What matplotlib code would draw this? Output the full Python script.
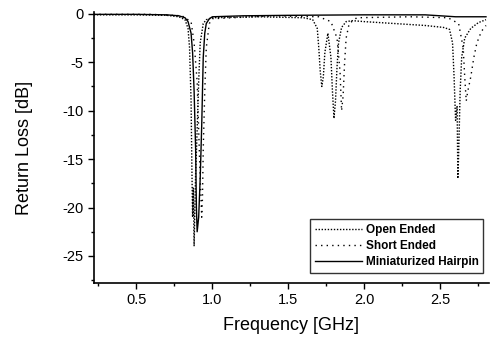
import numpy as np
import matplotlib.pyplot as plt

plt.rcParams['font.family'] = ['Liberation Sans', 'DejaVu Sans']
plt.rcParams['axes.unicode_minus'] = False

# --- data (frequency in GHz, return loss in dB)
open_freq = [0.22, 0.50, 0.70, 0.78, 0.82, 0.84, 0.85, 0.86, 0.865, 0.87, 0.875, 0.88,
             0.885, 0.89, 0.90, 0.91, 0.92, 0.94, 0.96, 1.00, 1.30, 1.60, 1.66, 1.69,
             1.70, 1.71, 1.72, 1.73, 1.74, 1.76, 1.78, 1.79, 1.80, 1.81, 1.82, 1.83,
             1.85, 1.88, 1.92, 2.00, 2.20, 2.40, 2.52, 2.56, 2.58, 2.59, 2.60, 2.61,
             2.615, 2.62, 2.63, 2.64, 2.66, 2.70, 2.75, 2.80]
open_db = [-0.1, -0.1, -0.15, -0.3, -0.6, -1.5, -3.5, -9.0, -15.5, -21.0, -18.0, -24.0,
           -20.0, -16.5, -12.0, -7.0, -3.0, -1.0, -0.6, -0.4, -0.3, -0.4, -0.6, -1.5,
           -3.5, -6.0, -7.5, -6.5, -4.0, -2.0, -4.5, -8.0, -10.8, -9.0, -5.5, -3.0,
           -1.4, -0.8, -0.7, -0.8, -1.0, -1.2, -1.4, -1.6, -3.0, -6.5, -11.0, -9.5,
           -17.0, -14.5, -8.0, -4.5, -2.5, -1.5, -0.9, -0.6]

short_freq = [0.22, 0.60, 0.80, 0.86, 0.88, 0.90, 0.91, 0.92, 0.93, 0.935, 0.94,
              0.95, 0.96, 0.98, 1.00, 1.40, 1.70, 1.78, 1.82, 1.84, 1.85, 1.86, 1.87,
              1.88, 1.90, 1.95, 2.30, 2.55, 2.62, 2.65, 2.66, 2.67, 2.68, 2.70, 2.72,
              2.74, 2.77, 2.80]
short_db = [-0.05, -0.05, -0.2, -0.8, -3.0, -7.0, -12.0, -17.0, -21.0, -19.0, -14.0,
            -8.0, -3.5, -1.0, -0.5, -0.2, -0.3, -0.8, -2.5, -6.0, -10.0, -8.5, -5.0,
            -2.5, -1.0, -0.4, -0.3, -0.4, -1.0, -3.5, -6.5, -9.0, -8.0, -6.5, -4.5,
            -3.0, -1.8, -1.2]

hairpin_freq = [0.22, 0.50, 0.70, 0.78, 0.82, 0.84, 0.86, 0.87, 0.88, 0.89, 0.895,
                0.90, 0.91, 0.92, 0.93, 0.94, 0.95, 0.96, 0.98, 1.00, 1.20, 1.50,
                2.00, 2.40, 2.50, 2.60, 2.80]
hairpin_db = [-0.05, -0.05, -0.1, -0.2, -0.4, -0.8, -2.0, -4.0, -8.0, -14.0, -20.0,
              -22.5, -21.0, -17.0, -11.5, -4.5, -2.0, -1.0, -0.5, -0.3, -0.2, -0.15,
              -0.1, -0.1, -0.2, -0.3, -0.3]

xticks = [0.5, 1.0, 1.5, 2.0, 2.5]
yticks = [0, -5, -10, -15, -20, -25]

fig = plt.figure(figsize=(4.91, 3.41), dpi=100)
ax = fig.add_axes([0.191, 0.170, 0.805, 0.795])

ax.plot(open_freq, open_db, color='black', lw=1.0, ls=(0, (1, 1.2)), label='Open Ended')
ax.plot(short_freq, short_db, color='black', lw=1.0, ls=(0, (1, 3)), label='Short Ended')
ax.plot(hairpin_freq, hairpin_db, color='black', lw=1.0, ls='-', label='Miniaturized Hairpin')

ax.set_xlim(0.22, 2.82)
ax.set_ylim(-27.8, 0.2)
ax.set_xticks(xticks)
ax.set_xticklabels(['{:.1f}'.format(x) for x in xticks])
ax.set_yticks(yticks)
ax.set_yticklabels(['{:d}'.format(y) for y in yticks])
ax.set_xticks(np.arange(0.25, 2.81, 0.25), minor=True)
ax.set_yticks(np.arange(-27.5, 0.1, 2.5), minor=True)
ax.tick_params(which='major', direction='out', length=4, width=1, labelsize=10.5)
ax.tick_params(which='minor', direction='out', length=2, width=1)

for s in ['top', 'right']:
    ax.spines[s].set_visible(False)
for s in ['left', 'bottom']:
    ax.spines[s].set_linewidth(1.2)

ax.set_xlabel('Frequency [GHz]', fontsize=13, labelpad=7)
ax.set_ylabel('Return Loss [dB]', fontsize=13)
ax.yaxis.set_label_coords(-0.155, 0.5)

leg = ax.legend(loc='lower right', bbox_to_anchor=(1.0, 0.015), frameon=True, fancybox=False,
                edgecolor='black', handlelength=4.0, borderpad=0.4, labelspacing=0.35,
                handletextpad=0.3, prop={'weight': 'bold', 'size': 8.5})
leg.get_frame().set_linewidth(1.0)

fig.savefig('out.png', dpi=100)
